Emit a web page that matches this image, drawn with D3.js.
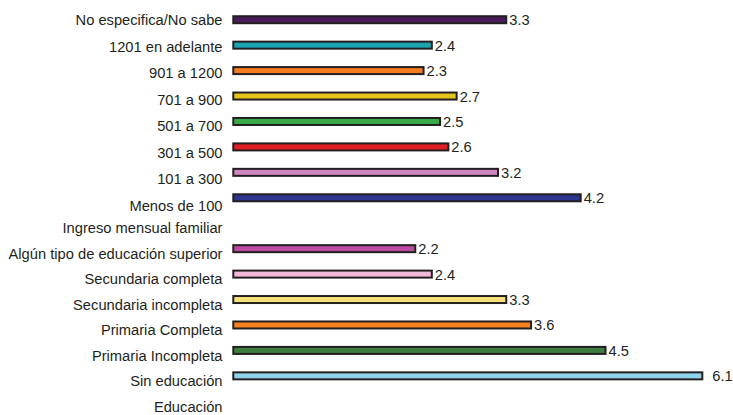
<!DOCTYPE html>
<html>
<head>
<meta charset="utf-8">
<script src="https://cdn.jsdelivr.net/npm/d3@7"></script>
<style>
  html, body { margin: 0; padding: 0; background: #ffffff; }
  svg { display: block; }
  text { font-family: "Liberation Sans", Arial, sans-serif; fill: #231F20; }
</style>
</head>
<body>
<svg id="chart" width="733" height="415"></svg>
<script>
const categories = [
  "No especifica/No sabe",
  "1201 en adelante",
  "901 a 1200",
  "701 a 900",
  "501 a 700",
  "301 a 500",
  "101 a 300",
  "Menos de 100",
  "Ingreso mensual familiar",
  "Algún tipo de educación superior",
  "Secundaria completa",
  "Secundaria incompleta",
  "Primaria Completa",
  "Primaria Incompleta",
  "Sin educación",
  "Educación"
];
const values = [3.3, 2.4, 2.3, 2.7, 2.5, 2.6, 3.2, 4.2, null, 2.2, 2.4, 3.3, 3.6, 4.5, 6.1, null];
const valueLabels = ["3.3", "2.4", "2.3", "2.7", "2.5", "2.6", "3.2", "4.2", "", "2.2", "2.4", "3.3", "3.6", "4.5", "6.1", ""];
const colors = [
  "#4A1C5C", "#1BA5B0", "#F47B20", "#E3C51C", "#3AAA48", "#E01F26", "#CF86C2", "#2D3590",
  null, "#BC4B9F", "#F1BAD9", "#F5E27A", "#F58220", "#3C7E3B", "#8ED4EC", null
];
// two groups of rows: income (first 8) and education (last 8)
const groupA = d3.range(0, 8);
const groupB = d3.range(8, 16);

const svg = d3.select("#chart");
const rows = d3.range(categories.length);

// bar rows
const y = d3.scaleBand().domain(rows).range([7, 414]).paddingInner(0).paddingOuter(0);
// label rows, per group
const yLabA = d3.scalePoint().domain(groupA).range([25.4, 211]);
const yLabB = d3.scalePoint().domain(groupB).range([233, 412]);
const yLab = i => (groupA.includes(i) ? yLabA(i) : yLabB(i));

const x = d3.scaleLinear().domain([0, 5.67]).range([233.3, 702.3]).clamp(true);

const barH = 7;

svg.append("g").selectAll("text")
  .data(rows)
  .join("text")
  .attr("x", 222.5)
  .attr("y", i => yLab(i))
  .attr("text-anchor", "end")
  .style("font-size", "14.7px")
  .text(i => categories[i]);

const bars = rows.filter(i => values[i] !== null);

svg.append("g").selectAll("rect")
  .data(bars)
  .join("rect")
  .attr("x", x(0))
  .attr("y", i => y(i) + y.bandwidth() / 2 - barH / 2)
  .attr("width", i => x(values[i]) - x(0))
  .attr("height", barH)
  .attr("fill", i => colors[i])
  .attr("stroke", "#231F20")
  .attr("stroke-width", 2);

svg.append("g").selectAll("text")
  .data(bars)
  .join("text")
  .attr("x", i => x(values[i]) + (values[i] > x.domain()[1] ? 10 : 3))
  .attr("y", i => y(i) + y.bandwidth() / 2 + 5.5)
  .style("font-size", "14.7px")
  .text(i => valueLabels[i]);
</script>
</body>
</html>
